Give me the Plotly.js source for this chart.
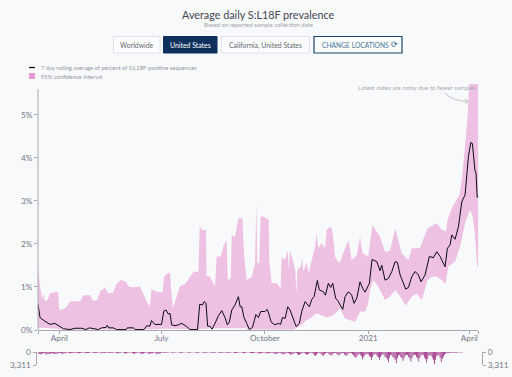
<!DOCTYPE html>
<html><head><meta charset="utf-8">
<script src="https://cdn.plot.ly/plotly-3.0.1.min.js"></script>
<style>html,body{margin:0;padding:0;background:#f8f9fb}#c{width:512px;height:377px}</style>
</head><body><div id="c"></div>
<script>
const firstDate = Date.UTC(2020, 2, 13);
const tickLabels = ['', 'April', 'July', 'October', '2021', 'April', ''];
const tickDays = [0, 19, 110, 202, 294, 384, 392];

const meanDays = [0,1.8,4.7,7.7,10.7,15,19,22.6,28.5,33,39,42.7,45.7,50.8,53.7,56.7,60.6,61.7,63,67,70,78.4,79.5,85,86.4,94.4,96.8,99.7,101,104,110,112,114,116,117.5,
119,122,125,128,132.4,135.4,142,144,146.3,148,149.6,151,153,155,157.6,160.6,163.6,166.5,168.6,170.4,172.5,175.4,178.4,180,181.4,183.4,185.8,188.2,191,194,196.2,198.3,202,204,205.4,207.5,211,214,216,217.6,220,222.3,224.4,226.2,228,229.8,232.7,234.8,237.8,241.6,243.7,245.8,248.7,250.5,254,255.9,258.5,260.6,262.4,265,266.9,270,
271.3,273.4,276.4,279.3,281.4,283.8,286.7,289,291.2,295,297.4,301.6,304.5,306,309,312,315,318,320,322.4,327.4,329.8,332.8,335.7,338.7,341,344.6,348.4,352,355,358,362.4,364.5,366.9,368.4,371.3,374.3,377.3,380.2,383.2,385.3,386.7,389,390,391,392];
const meanPct = [.60,.29,.23,.17,.13,.155,.08,.03,.01,.04,.04,.01,.05,.03,.01,.05,.06,.11,.05,.05,.01,.01,.05,.05,.01,.01,.10,.09,.22,.13,.13,.44,.465,.37,.39,
.12,.10,.12,.155,.08,.01,.01,.60,.58,.66,.62,.09,.09,.02,.155,.33,.45,.29,.12,.19,.465,.58,.775,.54,.54,.29,.155,.01,.06,.36,.29,.43,.43,.48,.39,.19,.12,.155,.13,.29,.27,.54,.465,.33,.19,.08,.155,.43,.66,.54,.71,.775,1.15,.93,.89,.81,1.085,.99,1.085,.74,.68,.55,
.48,.775,.89,.81,.62,.74,1.12,.97,.88,1.085,1.64,1.59,1.38,1.51,1.16,1.20,1.36,1.59,1.57,1.28,.95,.99,1.24,1.36,1.28,1.12,1.28,1.71,1.68,1.82,1.71,1.47,1.90,1.98,2.21,2.11,2.40,2.98,3.14,4.03,4.36,4.34,3.72,3.64,3.09,3.09];

const upperDays = [0,1.8,3.9,4.7,6.2,8.3,10.7,13,18,19,22.6,25.5,28.5,33,37.4,40.4,46.3,49.3,52.8,55.2,59.7,62.6,67,70,73.6,78.4,80.4,85,90.8,93.8,96.8,99.7,101,105.7,111,112.2,116,117.5,
118.4,120,121,123.5,126.4,131,135.4,138.3,142.8,144,145.7,149.6,150,153,157.6,159,162.7,165,168,168.9,171.6,172.5,175.4,178.4,182,183.4,185.8,190.3,193.2,194.4,195.3,197,198.3,202,205.4,206,208,212.5,216,217,220,222.3,223.3,224.4,226.8,229,230,230.9,233.9,235,236.3,239,241,243.7,246.7,248,249.6,252.6,255.6,257,260,262,264.5,267.4,269,
273.4,276.4,279.3,283.8,286.7,289,294,297.7,301,304.5,309,313.4,318,320,323.8,329.8,332.8,340,346.8,355,359.5,363.3,364.5,368.4,375.2,377.3,381,382.6,383.8,392];
const upperPct = [1.47,1.01,.70,.85,.66,.70,.85,.88,.88,.465,.48,.54,.66,.67,.66,.81,.81,.67,.70,.89,.99,.85,.87,1.07,1.16,1.12,1.02,.99,1.02,.85,.66,.54,.95,.89,.88,1.24,1.33,1.32,
1.01,.50,.62,.775,1.02,1.07,1.24,1.35,1.36,2.43,2.33,2.33,1.26,1.24,1.01,1.71,1.71,1.94,2.09,1.16,1.20,2.21,2.17,2.60,2.60,1.78,1.16,1.24,1.55,2.95,1.55,1.55,2.65,2.62,2.56,1.55,1.085,1.085,.97,1.69,1.63,1.86,1.40,1.86,1.63,1.40,.85,1.40,1.47,1.67,1.36,1.57,1.32,1.63,1.94,2.25,1.90,2.02,1.90,2.33,2.40,2.33,1.71,1.57,1.59,
1.90,2.09,1.63,1.74,2.17,1.78,1.71,2.44,2.31,2.17,1.82,1.84,2.36,2.17,1.78,1.63,1.90,1.90,2.36,2.48,2.33,2.29,2.56,2.83,3.14,3.49,4.50,5.04,5.72,5.72];

const lowerDays = [0,5,10,18,19,100,112,118,143,144,150,155,185,187,228,230,234.8,239,242,248,257,263,269,273.4,278,282.3,286.7,291.2,294,295.6,298.6,303,309,313.4,318,322.4,327.4,332.8,337,341.8,346.8,350.6,355,359.5,362.8,365.4,371.3,375.8,380.2,384.7,387,389,391,392];
const lowerPct = [.06,.05,.04,.03,.01,.01,.03,.03,.01,.03,.03,.04,.04,.01,.01,.04,.12,.23,.27,.39,.29,.35,.50,.27,.22,.19,.43,.43,.62,.93,1.16,1.01,.70,.78,.93,.78,.57,.78,.85,.70,1.16,1.24,1.24,1.16,1.07,1.47,1.59,1.94,2.48,2.79,2.64,2.25,1.47,1.47];

const dailySamples = [
520,480,610,430,390,280,350, 560,600,510,470,420,260,310, 480,520,440,380,410,220,260, 390,420,360,300,340,150,190,
320,350,280,250,290,120,160, 300,260,310,240,210,110,170, 280,300,250,230,190,90,140, 260,240,290,220,180,80,120,
290,310,260,240,200,100,130, 250,280,240,210,170,70,110, 300,340,290,260,220,90,140, 320,360,300,250,210,110,150,
340,380,420,310,270,130,170, 390,450,400,360,280,140,180, 430,480,410,350,300,120,210, 460,520,440,380,290,150,200,
210,240,190,170,150,60,90, 180,220,170,150,130,50,80, 160,200,230,140,120,40,70, 150,190,170,130,110,50,80,
170,210,180,140,120,60,90, 200,250,190,150,120,70,100, 180,230,200,160,130,60,90, 220,280,240,180,140,80,110,
190,260,230,170,130,70,100, 240,300,270,190,150,80,120, 210,290,320,220,160,90,130, 250,340,300,230,170,100,140,
300,380,340,260,190,110,160, 330,400,360,280,210,130,170, 410,520,480,360,240,140,200, 460,620,580,420,280,170,230,
430,700,650,480,300,180,240, 480,760,690,520,330,200,260, 420,640,610,470,310,190,240, 520,800,1040,640,360,220,280,
560,820,990,600,350,210,270, 510,780,900,620,340,200,260, 470,740,850,560,320,190,250, 620,980,880,600,360,240,300,
580,900,1150,1500,1100,620,480, 700,1100,1830,1250,900,560,500, 640,1100,1300,2000,1300,780,540, 660,1150,1350,2000,1300,800,560,
720,1250,1500,1900,2600,1400,760, 820,1300,1650,2000,2870,1500,840, 780,1300,1600,2260,1400,900,720, 760,1300,1600,2440,1500,920,700,
740,1300,1600,2430,1500,880,700, 820,1400,1800,2700,1700,980,760, 940,1500,2100,3130,2000,1100,820, 880,1500,2640,1700,1200,700,420,
260,300,240,200,220,120,150, 180,160,210,140,110,90,100, 70
];

const dates = arr => arr.map(d => firstDate + d * 86400000);
const dayList = dailySamples.map((_, i) => i);

const px = x => x / 512;
const py = y => 1 - y / 377;
const GREY = '#74777f';
const FONT = 'Lato, sans-serif';

function txt(x, y, text, size, color, anchor, font) {
  return {xref:'paper', yref:'paper', x:px(x), y:py(y), text, showarrow:false,
    xanchor:anchor||'left', yanchor:'middle', font:{family:font||FONT, size, color}};
}
function box(x0, y0, x1, y1, fill, line, w) {
  return {type:'rect', xref:'paper', yref:'paper', x0:px(x0), x1:px(x1), y0:py(y0), y1:py(y1),
    fillcolor:fill, line:{color:line, width:w===undefined?1:w}, layer:'above'};
}
function seg(x0, y0, x1, y1, color, w) {
  return {type:'line', xref:'paper', yref:'paper', x0:px(x0), x1:px(x1), y0:py(y0), y1:py(y1),
    line:{color, width:w||1}, layer:'above'};
}

const traces = [
  {type:'scatter', mode:'lines', x:dates(lowerDays.concat(upperDays.slice().reverse())),
   y:lowerPct.concat(upperPct.slice().reverse()), fill:'toself', fillcolor:'#eec0e2',
   line:{width:0}, hoverinfo:'skip', showlegend:false},
  {type:'scatter', mode:'lines', x:dates(meanDays), y:meanPct, line:{color:'#0a0a14', width:1},
   cliponaxis:false, showlegend:false},
  {type:'bar', x:dates(dayList), y:dailySamples, yaxis:'y2', marker:{color:'#98267f', line:{width:0}},
   showlegend:false},
  {type:'scatter', mode:'none', x:dates(dayList), y:dailySamples, yaxis:'y3', hoverinfo:'skip', showlegend:false}
];

const sideAxis = {range:[3311,0], domain:[py(365), py(352)], anchor:'free', tickmode:'array', tickvals:[0,3311],
  ticktext:['0','3,311'], showline:true, linecolor:'#a8a8ac', linewidth:1, ticks:'outside', ticklen:3,
  tickcolor:'#a8a8ac', showgrid:false, zeroline:false, ticklabelstandoff:0, tickfont:{family:FONT, size:8.2, color:GREY}};

const layout = {
  width:512, height:377, margin:{l:0,r:0,t:0,b:0}, paper_bgcolor:'#f8f9fb', plot_bgcolor:'#f8f9fb',
  bargap:0.28, showlegend:false,
  xaxis:{type:'date', domain:[px(38), px(478.3)], range:[firstDate, firstDate+392*86400000], anchor:'y',
    tickmode:'array', tickvals:dates(tickDays), ticktext:tickLabels, ticks:'outside', ticklen:3,
    tickcolor:'#a8a8ac', showline:true, linecolor:'#a8a8ac', linewidth:1, showgrid:false, zeroline:false,
    ticklabelstandoff:-3, tickfont:{family:FONT, size:8.2, color:GREY}},
  yaxis:{domain:[py(330), py(84)], range:[0,5.72], tickmode:'array', tickvals:[0,1,2,3,4,5],
    ticktext:['0%','1%','2%','3%','4%','5%'], ticks:'outside', ticklen:3, tickcolor:'#a8a8ac',
    showgrid:false, zeroline:false, showline:false, ticklabelstandoff:-1.5, tickfont:{family:FONT, size:8.2, color:GREY}},
  yaxis2:Object.assign({}, sideAxis, {side:'left', position:px(35.5)}),
  yaxis3:Object.assign({}, sideAxis, {side:'right', overlaying:'y2', position:px(482)}),
  shapes:[
    seg(38, 89, 38, 330, '#a8a8ac'),
    box(113.5, 36.5, 160, 53, '#fbfcfd', '#dfe2e9'),
    box(163.5, 36.5, 217, 53, '#0f2f5c', '#0f2f5c'),
    box(221.5, 36.5, 309.5, 53, '#fbfcfd', '#dfe2e9'),
    box(314, 36.5, 402, 53, '#fbfcfd', '#184468', 1.2),
    seg(29, 67.5, 35, 67.5, '#000000', 1.2),
    box(29, 73, 35, 79, '#e99ad5', '#e99ad5', 0),
    {type:'path', xref:'paper', yref:'paper', layer:'above', line:{color:'#b4b6bc', width:0.8},
     path:`M ${px(445)},${py(93)} Q ${px(452)},${py(101)} ${px(468)},${py(101.5)}`},
    seg(465, 99, 468, 101.5, '#b4b6bc', 0.8),
    seg(465, 104, 468, 101.5, '#b4b6bc', 0.8)
  ],
  annotations:[
    txt(258.5, 14.5, 'Average daily S:L18F prevalence', 10.8, '#43464f', 'center'),
    txt(258, 25, 'Based on reported sample collection date', 6, '#a0a3aa', 'center'),
    txt(136.5, 45, 'Worldwide', 6.9, '#666972', 'center'),
    txt(190.5, 45, 'United States', 6.9, '#ffffff', 'center'),
    txt(265.5, 45, 'California, United States', 6.9, '#666972', 'center'),
    txt(320, 45, 'CHANGE LOCATIONS', 6.7, '#4a7797'),
    txt(394, 44.5, '⟳', 8, '#2f6286', 'center', 'DejaVu Sans'),
    txt(38.5, 68, '7 day rolling average of percent of S:L18F-positive sequences', 5.8, '#94979f'),
    txt(38.5, 76.5, '95% confidence interval', 5.8, '#94979f'),
    txt(478, 87, 'Latest dates are noisy due to fewer samples', 6.2, '#a9abb2', 'right')
  ]
};
Plotly.newPlot('c', traces, layout, {displayModeBar:false, staticPlot:true});
</script></body></html>
